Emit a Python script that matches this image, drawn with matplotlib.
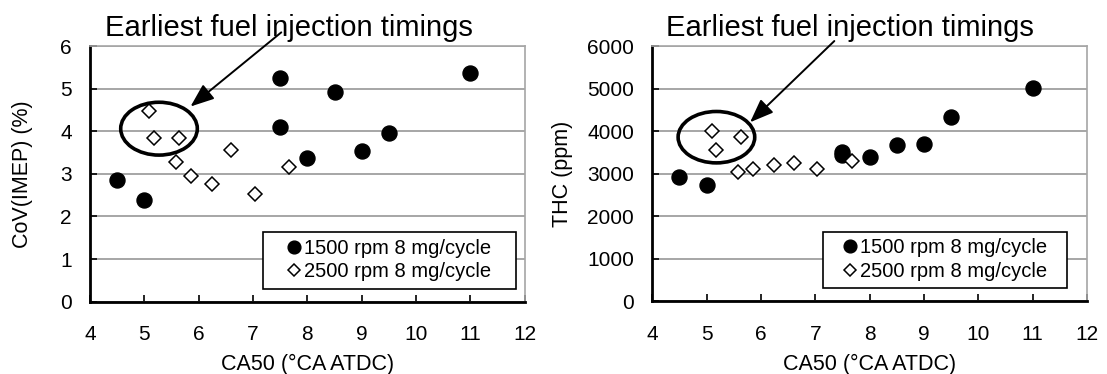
import matplotlib
matplotlib.use("Agg")
import matplotlib.pyplot as plt
from matplotlib.patches import Ellipse, Rectangle

plt.rcParams['font.family'] = ['Liberation Sans', 'DejaVu Sans']

# ---- data ----
ca50_1500_cov = [4.5, 5.0, 7.5, 7.5, 8.0, 8.5, 9.0, 9.5, 11.0]
cov_1500 = [2.85, 2.38, 5.24, 4.10, 3.37, 4.92, 3.53, 3.97, 5.37]
ca50_2500 = [5.09, 5.18, 5.64, 5.58, 5.85, 6.24, 6.60, 7.03, 7.67]
cov_2500 = [4.48, 3.84, 3.84, 3.28, 2.95, 2.77, 3.57, 2.52, 3.16]

ca50_1500_thc = [4.5, 5.0, 7.5, 7.5, 8.0, 8.5, 9.0, 9.5, 11.0]
thc_1500 = [2920, 2735, 3500, 3450, 3400, 3675, 3700, 4340, 5010]
thc_2500 = [4010, 3550, 3870, 3040, 3120, 3200, 3250, 3120, 3300]

label_1500 = "1500 rpm 8 mg/cycle"
label_2500 = "2500 rpm 8 mg/cycle"
annot_text = "Earliest fuel injection timings"
xlabel = "CA50 (\u00b0CA ATDC)"
ylabel_cov = "CoV(IMEP) (%)"
ylabel_thc = "THC (ppm)"

xticks = [4, 5, 6, 7, 8, 9, 10, 11, 12]
yticks_cov = [0, 1, 2, 3, 4, 5, 6]
yticks_thc = [0, 1000, 2000, 3000, 4000, 5000, 6000]

fig = plt.figure(figsize=(11.07, 3.74), dpi=100)
W, H = 1107, 374

def make_ax(left_px, right_px, top_px, bottom_px):
    return fig.add_axes([left_px / W, 1 - bottom_px / H,
                         (right_px - left_px) / W, (bottom_px - top_px) / H])

ax1 = make_ax(90, 524.7, 46, 301.7)
ax2 = make_ax(652.3, 1087, 46, 301.3)

TICK_FS = 15
LABEL_FS = 15.5
LEG_FS = 14.5
TITLE_FS = 21

def style(ax, yticks, ylim, ylab, ylab_x_px):
    ax.set_xlim(4, 12)
    ax.set_ylim(*ylim)
    ax.set_xticks(xticks)
    ax.set_yticks(yticks)
    ax.grid(axis='y', color='#a6a6a6', linewidth=1.4)
    ax.set_axisbelow(True)
    for s in ['top', 'right']:
        ax.spines[s].set_color('#a6a6a6')
        ax.spines[s].set_linewidth(1.2)
    for s in ['left', 'bottom']:
        ax.spines[s].set_color('black')
        ax.spines[s].set_linewidth(2.0)
    ax.tick_params(axis='x', direction='in', length=5, width=1.2, pad=17,
                   labelsize=TICK_FS)
    ax.tick_params(axis='y', direction='in', length=5, width=1.2, pad=13,
                   labelsize=TICK_FS)
    ax.set_xlabel(xlabel, fontsize=LABEL_FS, labelpad=7)
    ax.set_ylabel(ylab, fontsize=LABEL_FS)
    pos = ax.get_position()
    ax.yaxis.set_label_coords((ylab_x_px - pos.x0 * W) / (pos.width * W), 0.5)

def scatter(ax, x1, y1, x2, y2):
    ax.plot(x1, y1, 'o', color='black', markersize=10.8, linestyle='none',
            label=label_1500, clip_on=False, zorder=3)
    ax.plot(x2, y2, 'D', markerfacecolor='white', markeredgecolor='black',
            markersize=7.5, markeredgewidth=1.1, linestyle='none',
            label=label_2500, clip_on=False, zorder=3)

def legend_box(ax, x0, x1, y0, y1):
    ax.add_patch(Rectangle((x0, y0), x1 - x0, y1 - y0, transform=ax.transAxes,
                           facecolor='white', edgecolor='black', linewidth=1.2,
                           zorder=2.5))
    leg = ax.legend(loc='center', bbox_to_anchor=((x0 + x1) / 2, (y0 + y1) / 2),
                    fontsize=LEG_FS, frameon=False, markerscale=0.85,
                    handlelength=0.6, handletextpad=0.2, borderpad=0.2,
                    labelspacing=0.22, borderaxespad=0)
    leg.set_zorder(6)

# ---- left chart ----
scatter(ax1, ca50_1500_cov, cov_1500, ca50_2500, cov_2500)
style(ax1, yticks_cov, (0, 6), ylabel_cov, 33)
legend_box(ax1, 0.399, 0.980, 0.050, 0.274)
ax1.add_patch(Ellipse((5.27, 4.06), 1.41, 1.24, fill=False,
                      edgecolor='black', linewidth=2.6, zorder=4))
ax1.annotate('', xy=(5.85, 4.58), xytext=(7.52, 6.32),
             arrowprops=dict(arrowstyle='-|>,head_length=0.9,head_width=0.35',
                             color='black', lw=1.4, mutation_scale=16,
                             shrinkA=0, shrinkB=0),
             annotation_clip=False, zorder=5)
ax1.text(7.66, 6.24, annot_text, ha='center', va='baseline', fontsize=TITLE_FS,
         clip_on=False)

# ---- right chart ----
scatter(ax2, ca50_1500_thc, thc_1500, ca50_2500, thc_2500)
style(ax2, yticks_thc, (0, 6000), ylabel_thc, 573)
legend_box(ax2, 0.393, 0.955, 0.054, 0.272)
ax2.add_patch(Ellipse((5.18, 3857), 1.41, 1208, fill=False,
                      edgecolor='black', linewidth=2.6, zorder=4))
ax2.annotate('', xy=(5.80, 4208), xytext=(7.35, 6117),
             arrowprops=dict(arrowstyle='-|>,head_length=0.9,head_width=0.35',
                             color='black', lw=1.4, mutation_scale=16,
                             shrinkA=0, shrinkB=0),
             annotation_clip=False, zorder=5)
ax2.text(7.64, 6234, annot_text, ha='center', va='baseline', fontsize=TITLE_FS,
         clip_on=False)

fig.savefig('out.png', dpi=100)
